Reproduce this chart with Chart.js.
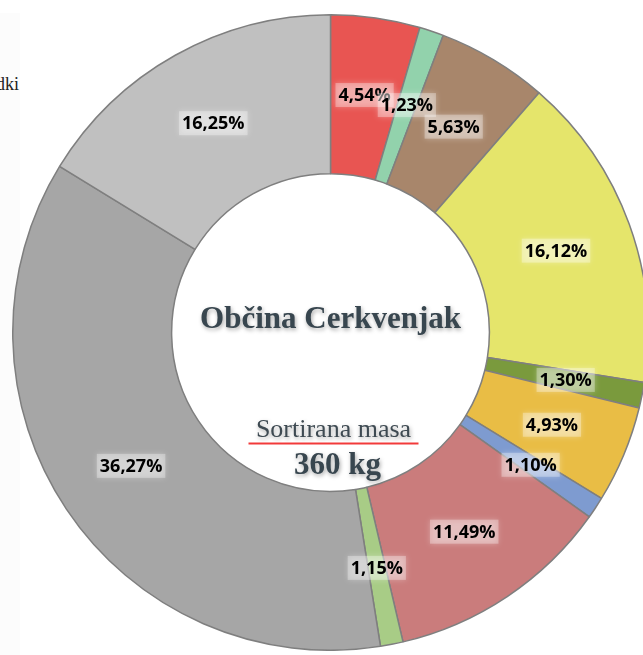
<!DOCTYPE html>
<html>
<head>
<meta charset="utf-8">
<script src="https://cdn.jsdelivr.net/npm/chart.js@4/dist/chart.umd.min.js"></script>
<style>
  html, body { margin: 0; padding: 0; background: #ffffff; overflow: hidden; width: 643px; height: 655px; }
  #strip { position: absolute; left: 0; top: 13px; width: 20px; height: 642px; background: #fcfcfc; }
  #wrap { position: absolute; left: 12px; top: 14px; width: 637px; height: 637px; }
  #legendFrag { position: absolute; left: -120px; top: 74px; width: 139px; text-align: right;
    font-family: "Liberation Serif", serif; font-size: 18px; color: #222; white-space: nowrap; }
</style>
</head>
<body>
<div id="strip"></div>
<div id="legendFrag">odpadki</div>
<div id="wrap"><canvas id="c" width="637" height="637"></canvas></div>
<script>
const categories = ["Kategorija 1","Kategorija 2","Kategorija 3","Kategorija 4","Kategorija 5","Kategorija 6","Kategorija 7","Kategorija 8","Kategorija 9","Kategorija 10","Kategorija 11"];
const shares = [4.54, 1.23, 5.63, 16.12, 1.30, 4.93, 1.10, 11.49, 1.15, 36.27, 16.25];
const labelsText = ["4,54%","1,23%","5,63%","16,12%","1,30%","4,93%","1,10%","11,49%","1,15%","36,27%","16,25%"];
const colors = ["#E85552","#92D2AC","#A8866B","#E5E56B","#7A9A3D","#E9BD45","#7E9BD0","#CA7C7C","#A8CC86","#A6A6A6","#C0C0C0"];
const centerTitle = "Občina Cerkvenjak";
const centerSub = "Sortirana masa";
const centerValue = "360 kg";

const labelPlugin = {
  id: 'sliceLabels',
  afterDatasetsDraw(chart) {
    const ctx = chart.ctx;
    const meta = chart.getDatasetMeta(0);
    ctx.save();
    ctx.font = 'bold 18px "Open Sans", sans-serif';
    ctx.textAlign = 'center';
    ctx.textBaseline = 'middle';
    meta.data.forEach((arc, i) => {
      const mid = (arc.startAngle + arc.endAngle) / 2;
      const r = arc.innerRadius + 0.51 * (arc.outerRadius - arc.innerRadius);
      const px = arc.x + Math.cos(mid) * r;
      const py = arc.y + Math.sin(mid) * r;
      const t = labelsText[i];
      const w = ctx.measureText(t).width;
      ctx.save();
      ctx.shadowColor = 'rgba(255,255,255,0.9)';
      ctx.shadowBlur = 6;
      ctx.fillStyle = 'rgba(255,255,255,0.32)';
      ctx.fillRect(px - w/2 - 3, py - 12, w + 6, 24);
      ctx.restore();
      ctx.fillStyle = '#000';
      ctx.fillText(t, px, py + 1);
    });
    ctx.restore();
  },
  afterDraw(chart) {
    const ctx = chart.ctx;
    const meta = chart.getDatasetMeta(0);
    const a = meta.data[0];
    const cx = a.x, cy = a.y;
    ctx.save();
    ctx.textAlign = 'center';
    ctx.textBaseline = 'alphabetic';
    ctx.shadowColor = 'rgba(0,0,0,0.35)';
    ctx.shadowBlur = 4;
    ctx.shadowOffsetX = 1;
    ctx.shadowOffsetY = 2;
    ctx.fillStyle = '#38464F';
    ctx.font = 'bold 31px "Liberation Serif", serif';
    ctx.fillText(centerTitle, cx, cy - 5);
    ctx.font = '26px "Liberation Serif", serif';
    ctx.fillStyle = '#3E4A52';
    ctx.fillText(centerSub, cx + 3, cy + 104);
    ctx.font = 'bold 31px "Liberation Serif", serif';
    ctx.fillStyle = '#38464F';
    ctx.fillText(centerValue, cx + 7, cy + 141);
    ctx.shadowColor = 'transparent';
    ctx.strokeStyle = '#F23A3A';
    ctx.lineWidth = 2;
    ctx.beginPath();
    ctx.moveTo(cx - 82, cy + 111);
    ctx.lineTo(cx + 88, cy + 111);
    ctx.stroke();
    ctx.restore();
  }
};

new Chart(document.getElementById('c'), {
  type: 'doughnut',
  data: {
    labels: categories,
    datasets: [{
      data: shares,
      backgroundColor: colors,
      borderColor: '#7F7F7F',
      borderWidth: 1.5
    }]
  },
  options: {
    responsive: false,
    animation: false,
    cutout: '50%',
    layout: { padding: 0 },
    plugins: { legend: { display: false }, tooltip: { enabled: false } }
  },
  plugins: [labelPlugin]
});
</script>
</body>
</html>
